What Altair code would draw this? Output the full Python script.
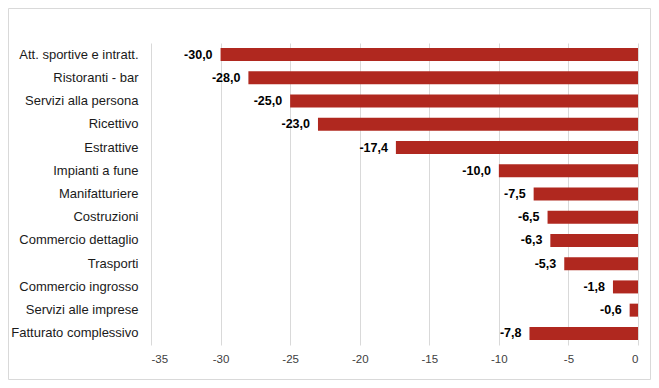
import altair as alt
import pandas as pd

categories = [
    "Att. sportive e intratt.",
    "Ristoranti - bar",
    "Servizi alla persona",
    "Ricettivo",
    "Estrattive",
    "Impianti a fune",
    "Manifatturiere",
    "Costruzioni",
    "Commercio dettaglio",
    "Trasporti",
    "Commercio ingrosso",
    "Servizi alle imprese",
    "Fatturato complessivo",
]
values = [-30.0, -28.0, -25.0, -23.0, -17.4, -10.0, -7.5, -6.5, -6.3, -5.3, -1.8, -0.6, -7.8]
x_ticks = [-35, -30, -25, -20, -15, -10, -5, 0]

df = pd.DataFrame({
    "cat": categories,
    "val": values,
    "label": [f"{v:.1f}".replace(".", ",") for v in values],
})

FONT = "Liberation Sans"
x_scale = alt.Scale(domain=[-35, 0], nice=False, zero=False)
y_enc = alt.Y("cat:N", sort=categories,
              scale=alt.Scale(paddingInner=0.44, paddingOuter=0.22),
              axis=alt.Axis(title=None, ticks=False, domain=False, grid=False,
                            labelFont=FONT, labelFontSize=13, labelColor="#1a1a1a",
                            labelPadding=13, labelLimit=200))

bars = alt.Chart(df).mark_bar(color="#B0281F").encode(
    x=alt.X("val:Q", scale=x_scale,
            axis=alt.Axis(values=x_ticks, title=None, ticks=False, domain=False,
                          grid=True, gridColor="#d9d9d9", gridWidth=1,
                          labelFont=FONT, labelFontSize=11.5, labelColor="#404040",
                          labelPadding=8, labelExpr="toString(datum.value)")),
    y=y_enc,
)

text = alt.Chart(df).mark_text(align="right", baseline="middle", dx=-8,
                               font=FONT, fontSize=12.5, fontWeight="bold",
                               color="#000000").encode(
    x=alt.X("val:Q", scale=x_scale),
    y=alt.Y("cat:N", sort=categories),
    text="label:N",
)

border = alt.Chart(alt.Data(values=[{}])).mark_rect(
    fill=None, stroke="#d9d9d9", strokeWidth=1, clip=False
).encode(
    x=alt.value(-142.5), x2=alt.value(499.5),
    y=alt.value(-34.5), y2=alt.value(336.5),
)

chart = alt.layer(bars, text, border).properties(
    width=487, height=302,
    autosize=alt.AutoSizeParams(type="none"),
    padding={"left": 143, "top": 35, "right": 13, "bottom": 36},
).configure_view(stroke=None)

chart.save("out.html", embed_options={"renderer": "svg", "actions": False})
